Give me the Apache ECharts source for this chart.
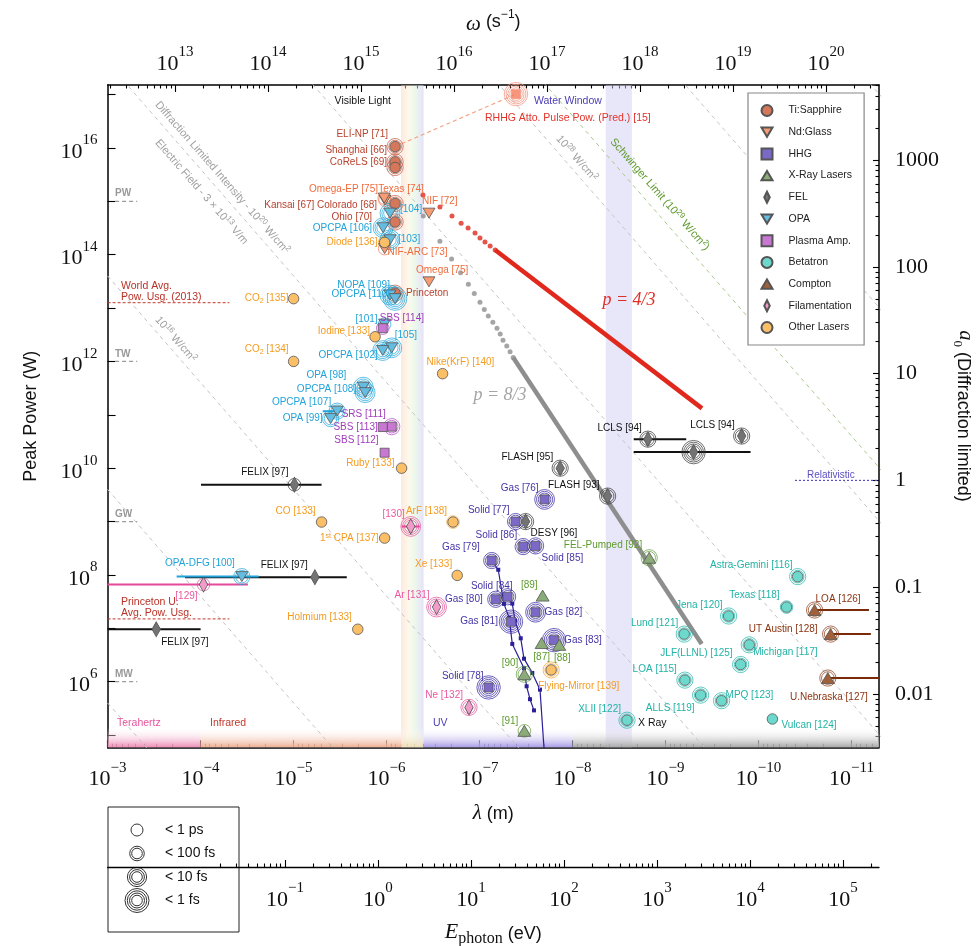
<!DOCTYPE html>
<html>
<head>
<meta charset="utf-8">
<script src="https://cdn.jsdelivr.net/npm/echarts@6/dist/echarts.min.js"></script>
<style>html,body{margin:0;padding:0;background:#fff}#chart{width:977px;height:946px}</style>
</head>
<body>
<div id="chart"></div>
<script>
// ---- data: [wavelength (m), peak power (W), label, rings (pulse length class)]
const tiSapphire = [
  [8.1e-7, 1.06e16, 'ELI-NP [71]', 2],
  [8.1e-7, 5.5e15, 'Shanghai [66]', 2],
  [8.1e-7, 4.3e15, 'CoReLS [69]', 2],
  [8.1e-7, 9.1e14, 'Kansai [67] Colorado [68]', 2],
  [8.1e-7, 4.1e14, 'Ohio [70]', 2],
  [8.1e-7, 1.9e13, 'Princeton', 2]
];
const ndGlass = [
  [1.04e-6, 1.05e15, 'Omega-EP [75]', 1],
  [1.06e-6, 1.15e15, 'Texas [74]', 1],
  [3.5e-7, 6.0e14, 'NIF [72]', 0],
  [1.05e-6, 1.3e14, 'NIF-ARC [73]', 1],
  [3.5e-7, 3.1e13, 'Omega [75]', 0]
];
const hhg = [
  [2.0e-8, 2.6e9, 'Gas [76]', 3],
  [4.1e-8, 1.0e9, 'Solid [77]', 2],
  [3.4e-8, 3.4e8, 'Solid [86]', 2],
  [2.5e-8, 3.5e8, 'Solid [85]', 2],
  [7.4e-8, 1.86e8, 'Gas [79]', 2],
  [5.0e-8, 3.9e7, 'Solid [84]', 2],
  [6.7e-8, 3.5e7, 'Gas [80]', 2],
  [2.5e-8, 2.0e7, 'Gas [82]', 3],
  [4.6e-8, 1.33e7, 'Gas [81]', 4],
  [1.58e-8, 6.0e6, 'Gas [83]', 4],
  [8.0e-8, 7.8e5, 'Solid [78]', 4]
];
const xrayLasers = [
  [2.1e-8, 4.1e7, '[89]', 0],
  [2.15e-8, 5.3e6, '[87]', 0],
  [1.39e-8, 4.9e6, '[88]', 0],
  [3.3e-8, 1.38e6, '[90]', 2],
  [3.3e-8, 1.2e5, '[91]', 1],
  [1.5e-9, 2.1e8, 'FEL-Pumped [92]', 2]
];
const fel = [
  [9.8e-6, 4.9e9, 'FELIX [97]', 1],
  [5.9e-6, 9.1e7, 'FELIX [97]', 0],
  [3.0e-4, 9.6e6, 'FELIX [97]', 0],
  [1.36e-8, 1.0e10, 'FLASH [95]', 2],
  [4.2e-9, 3.0e9, 'FLASH [93]', 2],
  [3.2e-8, 1.0e9, 'DESY [96]', 2],
  [1.55e-9, 3.5e10, 'LCLS [94]', 2],
  [5.0e-10, 2.0e10, '', 4],
  [1.52e-10, 4.0e10, 'LCLS [94]', 2]
];
const opa = [
  [9.2e-7, 6.0e14, '[104]', 3],
  [1.09e-6, 3.2e14, 'OPCPA [106]', 3],
  [9.2e-7, 1.9e14, '[103]', 3],
  [9.2e-7, 1.75e13, 'NOPA [109]', 3],
  [8.1e-7, 1.5e13, 'OPCPA [110]', 4],
  [1.05e-6, 5.0e12, '[101]', 1],
  [8.8e-7, 1.8e12, '[105]', 3],
  [1.1e-6, 1.6e12, 'OPCPA [102]', 3],
  [1.78e-6, 3.3e11, 'OPA [98]', 3],
  [1.7e-6, 2.6e11, 'OPCPA [108]', 3],
  [3.4e-6, 1.17e11, 'OPCPA [107]', 2],
  [4.0e-6, 8.5e10, 'OPA [99]', 2],
  [3.6e-5, 9.3e7, 'OPA-DFG [100]', 2]
];
const plasmaAmp = [
  [1.1e-6, 4.2e12, 'SBS [114]', 1],
  [8.8e-7, 6.0e10, 'SRS [111]', 2],
  [1.1e-6, 5.9e10, 'SBS [113]', 0],
  [1.05e-6, 1.95e10, 'SBS [112]', 0]
];
const betatron = [
  [3.8e-11, 9.3e7, 'Astra-Gemini [116]', 2],
  [5.0e-11, 2.5e7, 'Texas [118]', 1],
  [2.1e-10, 1.7e7, 'Jena [120]', 2],
  [6.3e-10, 7.8e6, 'Lund [121]', 2],
  [1.26e-10, 4.9e6, 'Michigan [117]', 2],
  [1.56e-10, 2.1e6, 'JLF(LLNL) [125]', 2],
  [6.2e-10, 1.07e6, 'LOA [115]', 2],
  [4.2e-10, 5.6e5, 'ALLS [119]', 2],
  [2.5e-10, 4.4e5, 'MPQ [123]', 2],
  [7.1e-11, 2.0e5, 'Vulcan [124]', 0],
  [2.6e-9, 1.9e5, 'XLII [122]', 2]
];
const compton = [
  [2.5e-11, 2.2e7, 'LOA [126]', 2],
  [1.68e-11, 7.8e6, 'UT Austin [128]', 2],
  [1.8e-11, 1.17e6, 'U.Nebraska [127]', 2]
];
const filamentation = [
  [5.5e-7, 8.1e8, '[130]', 3],
  [9.3e-5, 6.6e7, '[129]', 1],
  [2.9e-7, 2.5e7, 'Ar [131]', 3],
  [1.3e-7, 3.3e5, 'Ne [132]', 2]
];
const otherLasers = [
  [1.0e-5, 1.5e13, 'CO{sub|2} [135]', 0],
  [1.05e-6, 1.7e14, 'Diode [136]', 1],
  [1.33e-6, 2.9e12, 'Iodine [133]', 0],
  [1.0e-5, 1.0e12, 'CO{sub|2} [134]', 0],
  [2.5e-7, 5.9e11, 'Nike(KrF) [140]', 0],
  [6.9e-7, 1.0e10, 'Ruby [133]', 0],
  [5.0e-6, 9.8e8, 'CO [133]', 0],
  [1.05e-6, 4.9e8, '1{sup|st} CPA [137]', 0],
  [1.93e-7, 9.8e8, 'ArF [138]', 1],
  [1.74e-7, 9.8e7, 'Xe [133]', 0],
  [2.04e-6, 9.6e6, 'Holmium [133]', 0],
  [1.7e-8, 1.66e6, 'Flying-Mirror [139]', 2]
];
// spectral bars: [lambda from, lambda to, power, kind]
const spectralBars = [
  [9.9e-5, 5.0e-6, 4.9e9, 'FEL'],
  [1.47e-4, 2.68e-6, 9.1e7, 'FEL'],
  [1e-3, 1e-4, 9.6e6, 'FEL'],
  [2.2e-9, 6.0e-10, 3.5e10, 'FEL'],
  [2.2e-9, 1.22e-10, 2.0e10, 'FEL'],
  [1.81e-4, 2.37e-5, 9.3e7, 'OPA'],
  [4.86e-6, 2.94e-6, 1.17e11, 'OPA'],
  [6.9e-7, 4.4e-7, 8.1e8, 'Filamentation'],
  [1e-3, 3.1e-5, 6.6e7, 'Filamentation'],
  [2.5e-11, 6.5e-12, 2.2e7, 'Compton'],
  [1.68e-11, 6.2e-12, 7.8e6, 'Compton'],
  [1.8e-11, 5.0e-12, 1.17e6, 'Compton']
];
// relativistic HHG harmonics, p = 4/3 and p = 8/3
const rhhgDots = [[4.06e-7,1.31e15],[2.67e-7,7.8e14],[1.98e-7,5.3e14],[1.58e-7,3.9e14],[1.33e-7,3.16e14],
  [1.12e-7,2.54e14],[9.9e-8,2.05e14],[8.75e-8,1.72e14],[7.7e-8,1.45e14],[6.8e-8,1.22e14]];
const rhhgTrend = [[6.8e-8,1.22e14],[4.06e-10,1.32e11]];
const cweDots = [[4.03e-7,5.3e14],[2.67e-7,1.78e14],[2.0e-7,8.3e13],[1.6e-7,4.6e13],[1.32e-7,2.8e13],[1.14e-7,1.88e13],
  [9.9e-8,1.29e13],[8.9e-8,9.4e12],[8.06e-8,7.1e12],[7.2e-8,5.4e12],[6.5e-8,4.2e12],[6.0e-8,3.26e12],[5.6e-8,2.5e12],
  [5.1e-8,1.94e12],[4.7e-8,1.52e12],[4.35e-8,1.18e12]];
const cweTrend = [[4.35e-8,1.18e12],[4.09e-10,5.1e6]];
const rhhgAtto = [4.06e-8, 1.02e17];
// HHG harmonic sequences
const hhgSeqA = [[7.41e-8,1.86e8],[6.3e-8,1.25e8],[5.47e-8,2.87e7],[4.8e-8,1.57e7],[4.45e-8,5.1e6],[3.33e-8,1.78e6],[3.12e-8,8.2e5],[2.87e-8,4.7e5],[2.6e-8,2.9e5]];
const hhgSeqB = [[5.04e-8,3.9e7],[4.45e-8,2.9e7],[4.16e-8,1.39e7],[3.61e-8,6.5e6],[3.33e-8,2.7e6],[2.71e-8,1.46e6],[2.24e-8,7.1e5]];
const hhgSeqBTail = [[2.24e-8,7.1e5],[2.03e-8,5.7e4]];
// iso-intensity lines (10^8 ... 10^36 W/cm^2), endpoints [lambda, P]
const isoLines = [
  [[1e-3,4e5],[1e-12,4e-13]], [[1e-3,4e9],[1e-12,4e-9]], [[1e-3,4e13],[1e-12,4e-5]], [[1e-3,4e17],[1e-12,4e-1]],
  [[1e-3,4e21],[1e-12,4e3]], [[1e-3,4e25],[1e-12,4e7]], [[1e-3,4e29],[1e-12,4e11]], [[1e-3,4e33],[1e-12,4e15]]
];
const schwingerLine = [[1e-3,4e26],[1e-12,4e8]];
const powerLevels = [['PW',1e15],['TW',1e12],['GW',1e9],['MW',1e6]];
const powerUsage = [['World Avg.\nPow. Usg. (2013)',1.26e13],['Princeton U.\nAvg. Pow. Usg.',1.5e7]];
const relativisticA0 = 1;
// spectral regions (m)
const visibleBand = [7e-7, 4e-7];
const waterWindow = [4.4e-9, 2.3e-9];
const stripRegions = [[1e-3,1e-4,'#ee8db6'],[1e-4,7e-7,'#eeae92'],[7e-7,4e-7,'#eedcb8'],[4e-7,1e-8,'#a99ce6'],[1e-8,5e-12,'#a8a8a8']];
// axis ticks
const powerTicks = [1e5,1e6,1e7,1e8,1e9,1e10,1e11,1e12,1e13,1e14,1e15,1e16,1e17];
const powerLabels = [1e6,1e8,1e10,1e12,1e14,1e16];
const lambdaTicks = [1e-3,1e-4,1e-5,1e-6,1e-7,1e-8,1e-9,1e-10,1e-11];
const omegaTicks = [1e13,1e14,1e15,1e16,1e17,1e18,1e19,1e20];
const energyTicks = [1e-1,1e0,1e1,1e2,1e3,1e4,1e5];
const a0Ticks = [0.01,0.1,1,10,100,1000];

const LAM_MIN = 5.07e-12, LAM_MAX = 1e-3;
const P_MIN = 5.9e4, P_MAX = 1.51e17;
const P_REL = 5.9e9;
const TWO_PI_C = 1.88365e9, HC_EV = 1.23984e-6;

// ---- styles
const sans = "'Liberation Sans', Arial, Helvetica, sans-serif";
const serif = "'Liberation Serif', 'DejaVu Serif', serif";
const tallDiamond = 'path://M4,0L8,8L4,16L0,8Z';
const downTriangle = 'path://M0,0L12,0L6,10Z';
const upTriangle = 'path://M6,0L12,10L0,10Z';

const cats = [
  {name:'Ti:Sapphire', data:tiSapphire, symbol:'circle', size:10.5, fill:'#d4775a', ring:'#c2583e', text:'#b8412c',
   at:[['r',-7,-12],['r',-8,-12],['r',-8,-5],['r',-18,2],['r',-23,-5],['l',11,0]]},
  {name:'Nd:Glass', data:ndGlass, symbol:'triangle', rotate:180, icon:downTriangle, size:[12,10], fill:'#f79b72', ring:'#ef7c50', text:'#ef6c3c',
   at:[['r',-7,-11],['l',-6,-9],['l',-7,-12],['l',3,4],['l',-13,-12]]},
  {name:'HHG', data:hhg, symbol:'rect', size:9, fill:'#7b68c7', ring:'#3424a0', text:'#4535a6',
   at:[['r',-6,-11],['r',-6,-11],['r',-6,-11],['l',6,12],['r',-12,-13],['r',5,-11],['r',-13,0],['l',9,0],['r',-13,0],['l',10,0],['r',-5,-11]]},
  {name:'X-Ray Lasers', data:xrayLasers, symbol:'triangle', icon:upTriangle, size:[13,11], fill:'#8bab78', ring:'#5f9a3c', text:'#5d9b2c',
   at:[['r',-5,-10],['c',0,14],['c',3,13],['r',-6,-11],['r',-6,-10],['r',-7,-12]]},
  {name:'FEL', data:fel, symbol:'diamond', icon:tallDiamond, size:[8.5,15], fill:'#737373', ring:'#333333', text:'#111111',
   at:[['r',-6,-12],['r',-7,-12],['l',5,13],['r',-7,-11],['r',-8,-11],['l',5,12],['r',-6,-11],null,['r',-7,-11]]},
  {name:'OPA', data:opa, symbol:'triangle', rotate:180, icon:downTriangle, size:[12,10], fill:'#64bde0', ring:'#22a6db', text:'#21a3d9',
   at:[['l',10,-4],['r',-11,1],['l',8,-1],['r',0,-10],['r',-5,-4],['r',-7,-5],['l',3,-13],['r',-5,5],['r',-17,-12],['r',-9,-3],['r',-6,-9],['r',-8,0],['r',-7,-13]]},
  {name:'Plasma Amp.', data:plasmaAmp, symbol:'rect', size:9, fill:'#c877d2', ring:'#b24ac4', text:'#a13cbc',
   at:[['l',-3,-10],['r',-6,-12],['r',-5,0],['r',-6,-12]]},
  {name:'Betatron', data:betatron, symbol:'circle', size:10.5, fill:'#6dd8cc', ring:'#23b5a8', text:'#21b3a5',
   at:[['r',-5,-11],['r',-7,-12],['r',-6,-11],['r',-6,-11],['l',4,7],['r',-8,-11],['r',-8,-11],['r',-6,13],['l',4,-5],['l',9,6],['r',-6,-11]]},
  {name:'Compton', data:compton, symbol:'triangle', icon:upTriangle, size:[13,11], fill:'#a0603a', ring:'#8c3d1c', text:'#8b3412',
   at:[['l',1,-11],['r',-13,-5],['r',40,19]]},
  {name:'Filamentation', data:filamentation, symbol:'diamond', icon:tallDiamond, size:[8.5,15], fill:'#f29ccc', ring:'#e2529a', text:'#e9579f',
   at:[['r',-6,-12],['r',-6,12],['r',-7,-12],['r',-6,-12]]},
  {name:'Other Lasers', data:otherLasers, symbol:'circle', size:10.5, fill:'#fbbf68', ring:'#f3a335', text:'#f49c22',
   at:[['r',-5,0],['r',-7,0],['r',-5,-6],['r',-5,-12],['l',-16,-11],['r',-7,-5],['r',-6,-11],['r',-6,0],['r',-6,-11],['r',-5,-11],['r',-6,-12],['l',-13,16]]}
];
const barColor = {FEL:'#111111', OPA:'#21a3d9', Filamentation:'#e6489a', Compton:'#7a2a08'};

function pow10Label(v) {
  const e = Math.round(Math.log10(v));
  return '{n|10}{s|' + (e < 0 ? '\u2212' + (-e) : e) + '}';
}
const tickRich = {
  n: {fontFamily: serif, fontSize: 22, lineHeight: 30, verticalAlign: 'bottom', color: '#111'},
  s: {fontFamily: serif, fontSize: 15, lineHeight: 16, verticalAlign: 'top', color: '#111'}
};
function minorTicks(lo, hi) {
  const out = [];
  for (let e = Math.floor(Math.log10(lo)); e <= Math.ceil(Math.log10(hi)); e++) {
    for (let m = 2; m <= 9; m++) {
      const v = m * Math.pow(10, e);
      if (v > lo && v < hi) out.push(v);
    }
  }
  return out;
}
const axisLineStyle = {color: '#000', width: 1.5};
const tickLine = {color: '#000', width: 1.1};

function logAxis(o) {
  return Object.assign({
    type: 'log', splitLine: {show: false}, minorTick: {show: false},
    axisLine: {onZero: false, lineStyle: axisLineStyle}
  }, o);
}

const OM_MIN = TWO_PI_C / LAM_MAX, OM_MAX = TWO_PI_C / LAM_MIN;
const E_MIN = HC_EV / LAM_MAX, E_MAX = HC_EV / LAM_MIN;
const A0_MIN = Math.sqrt(P_MIN / P_REL), A0_MAX = Math.sqrt(P_MAX / P_REL);

const xAxis = [
  logAxis({gridIndex: 0, position: 'bottom', inverse: true, min: LAM_MIN, max: LAM_MAX,
    axisTick: {inside: true, length: 7, customValues: lambdaTicks, lineStyle: tickLine},
    axisLabel: {customValues: lambdaTicks, formatter: pow10Label, rich: tickRich, margin: 13},
    name: '{i|\u03bb} (m)', nameLocation: 'middle', nameGap: 56,
    nameTextStyle: {fontFamily: sans, fontSize: 18, color: '#111', rich: {i: {fontFamily: serif, fontStyle: 'italic', fontSize: 21, color: '#111'}}}}),
  logAxis({gridIndex: 0, position: 'bottom', inverse: true, min: LAM_MIN, max: LAM_MAX,
    axisLine: {show: false, onZero: false},
    axisTick: {inside: true, length: 3.5, customValues: minorTicks(LAM_MIN, LAM_MAX), lineStyle: tickLine},
    axisLabel: {show: false}}),
  logAxis({gridIndex: 0, position: 'top', min: OM_MIN, max: OM_MAX,
    axisTick: {inside: true, length: 7, customValues: omegaTicks, lineStyle: tickLine},
    axisLabel: {customValues: omegaTicks, formatter: pow10Label, rich: tickRich, margin: 10},
    name: '{i|\u03c9} (s{s|\u22121})', nameLocation: 'middle', nameGap: 50,
    nameTextStyle: {fontFamily: sans, fontSize: 18, color: '#111', rich: {
      i: {fontFamily: serif, fontStyle: 'italic', fontSize: 21, color: '#111', lineHeight: 26, verticalAlign: 'bottom'},
      s: {fontFamily: sans, fontSize: 12, color: '#111', lineHeight: 14, verticalAlign: 'top'}}}}),
  logAxis({gridIndex: 0, position: 'top', min: OM_MIN, max: OM_MAX,
    axisLine: {show: false, onZero: false},
    axisTick: {inside: true, length: 3.5, customValues: minorTicks(OM_MIN, OM_MAX), lineStyle: tickLine},
    axisLabel: {show: false}}),
  logAxis({gridIndex: 1, position: 'bottom', min: E_MIN, max: E_MAX,
    axisLine: {onZero: false, lineStyle: {color: '#000', width: 1.3}},
    axisTick: {inside: true, length: 7, customValues: energyTicks, lineStyle: tickLine},
    axisLabel: {customValues: energyTicks, formatter: pow10Label, rich: tickRich, margin: 14},
    name: '{i|E}{b|photon} (eV)', nameLocation: 'middle', nameGap: 54,
    nameTextStyle: {fontFamily: sans, fontSize: 18, color: '#111', rich: {
      i: {fontFamily: serif, fontStyle: 'italic', fontSize: 22, color: '#111', lineHeight: 26, verticalAlign: 'top'},
      b: {fontFamily: serif, fontSize: 16, color: '#111', lineHeight: 16, verticalAlign: 'bottom'}}}}),
  logAxis({gridIndex: 1, position: 'bottom', min: E_MIN, max: E_MAX,
    axisLine: {show: false, onZero: false},
    axisTick: {inside: true, length: 3.5, customValues: minorTicks(1e-2, E_MAX), lineStyle: tickLine},
    axisLabel: {show: false}})
];

const yAxis = [
  logAxis({gridIndex: 0, position: 'left', min: P_MIN, max: P_MAX,
    axisTick: {inside: true, length: 8, customValues: powerTicks, lineStyle: tickLine},
    axisLabel: {customValues: powerLabels, formatter: pow10Label, rich: tickRich, margin: 10},
    name: 'Peak Power (W)', nameLocation: 'middle', nameGap: 68, nameRotate: 90,
    nameTextStyle: {fontFamily: sans, fontSize: 18, color: '#111'}}),
  logAxis({gridIndex: 0, position: 'right', min: A0_MIN, max: A0_MAX,
    axisTick: {inside: true, length: 6, customValues: a0Ticks, lineStyle: tickLine},
    axisLabel: {customValues: a0Ticks, margin: 16, fontFamily: serif, fontSize: 22, color: '#111',
      formatter: v => v >= 1 ? String(Math.round(v)) : String(+v.toPrecision(1))},
    name: '{i|a}{b|0} (Diffraction limited)', nameLocation: 'middle', nameGap: 72, nameRotate: -90,
    nameTextStyle: {fontFamily: sans, fontSize: 18, color: '#111', rich: {
      i: {fontFamily: serif, fontStyle: 'italic', fontSize: 20, color: '#111', lineHeight: 24, verticalAlign: 'top'},
      b: {fontFamily: serif, fontSize: 13, color: '#111', lineHeight: 14, verticalAlign: 'bottom'}}}}),
  logAxis({gridIndex: 0, position: 'right', min: A0_MIN, max: A0_MAX,
    axisLine: {show: false, onZero: false},
    axisTick: {inside: true, length: 3.5, customValues: minorTicks(A0_MIN, A0_MAX), lineStyle: tickLine},
    axisLabel: {show: false}}),
  {gridIndex: 1, type: 'value', show: false, min: 0, max: 1}
];

const series = [];
const grad = (x2, y2, stops) => new echarts.graphic.LinearGradient(0, 0, x2, y2, stops);

// spectral bands
series.push({
  type: 'line', data: [], silent: true, z: 0,
  markArea: {silent: true, data: [
    [{xAxis: visibleBand[0], itemStyle: {color: grad(1, 0, [
      {offset: 0, color: 'rgba(252,205,188,0.45)'}, {offset: 0.35, color: 'rgba(250,242,208,0.45)'},
      {offset: 0.6, color: 'rgba(214,240,214,0.45)'}, {offset: 1, color: 'rgba(212,206,245,0.6)'}])}}, {xAxis: visibleBand[1]}],
    [{xAxis: waterWindow[0], itemStyle: {color: 'rgba(210,205,244,0.5)'}}, {xAxis: waterWindow[1]}]
  ].concat(stripRegions.map(r => [
    {xAxis: r[0], yAxis: P_MIN, itemStyle: {color: grad(0, 1, [{offset: 0, color: 'rgba(255,255,255,0)'}, {offset: 1, color: r[2]}])}},
    {xAxis: r[1], yAxis: 1.4e5}]))}
});

// iso-intensity lines
isoLines.forEach(l => series.push({type: 'line', data: l, symbol: 'none', silent: true, z: 1,
  lineStyle: {color: '#c4c4c4', width: 1, type: [4, 4]}}));
series.push({type: 'line', data: schwingerLine, symbol: 'none', silent: true, z: 1,
  lineStyle: {color: '#a9c98e', width: 1, type: [4, 4]}});

// power level marks and consumption
powerLevels.forEach(p => series.push({type: 'line', silent: true, z: 2, symbol: 'none',
  data: [[8.3e-4, p[1]], [4.8e-4, p[1]]], lineStyle: {color: '#9a9a9a', width: 1.2, type: [4, 3]}}));
powerUsage.forEach(p => series.push({type: 'line', silent: true, z: 2, symbol: 'none',
  data: [[1e-3, p[1]], [4.9e-5, p[1]]], lineStyle: {color: '#c0392b', width: 1, type: [3, 2]}}));
series.push({type: 'line', silent: true, z: 2, symbol: 'none', yAxisIndex: 1,
  data: [[4.06e-11, relativisticA0], [LAM_MIN, relativisticA0]], lineStyle: {color: '#5a4fc0', width: 1.2, type: [2, 2]}});

// harmonic scaling
series.push({type: 'line', data: [tiSapphire[0].slice(0, 2), rhhgAtto], symbol: 'none', silent: true, z: 2,
  lineStyle: {color: '#f4a585', width: 1.2, type: [4, 3]}});
series.push({type: 'scatter', data: cweDots, symbol: 'circle', symbolSize: 5, silent: true, z: 2, itemStyle: {color: '#8e8e8e'}});
series.push({type: 'line', data: cweTrend, symbol: 'none', silent: true, z: 2, lineStyle: {color: '#8e8e8e', width: 4.5}});
series.push({type: 'scatter', data: rhhgDots, symbol: 'circle', symbolSize: 5, silent: true, z: 2, itemStyle: {color: '#e0291c'}});
series.push({type: 'line', data: rhhgTrend, symbol: 'none', silent: true, z: 2, lineStyle: {color: '#e0291c', width: 4.5}});
[hhgSeqA, hhgSeqB].forEach(s => series.push({type: 'line', data: s, symbol: 'rect', symbolSize: 4, silent: true, z: 3,
  itemStyle: {color: '#2a1f99'}, lineStyle: {color: '#2a1f99', width: 1.2}}));
series.push({type: 'line', data: hhgSeqBTail, symbol: 'none', silent: true, z: 3, lineStyle: {color: '#2a1f99', width: 1.2}});

// spectral bars
spectralBars.forEach(b => series.push({type: 'line', silent: true, z: 3, symbol: 'none',
  data: [[b[0], b[2]], [b[1], b[2]]], lineStyle: {color: barColor[b[3]], width: 2}}));

// predicted attosecond pulse
for (let k = 1; k <= 4; k++) {
  series.push({type: 'scatter', silent: true, z: 4, symbol: 'circle', symbolSize: 9 + 3.6 * k, data: [rhhgAtto],
    itemStyle: {color: 'rgba(0,0,0,0)', borderColor: '#f4907a', borderWidth: 0.9}});
}
series.push({type: 'scatter', silent: true, z: 5, symbol: 'rect', symbolSize: 9, data: [rhhgAtto],
  itemStyle: {color: '#f47c5c', borderColor: '#f4907a', borderWidth: 0.8}});

// categories: rings then markers
cats.forEach(c => {
  for (let k = 1; k <= 4; k++) {
    const pts = c.data.filter(d => d[3] >= k).map(d => [d[0], d[1]]);
    if (!pts.length) continue;
    series.push({type: 'scatter', silent: true, z: 4, symbol: 'circle', symbolSize: 9 + 3.6 * k, data: pts,
      itemStyle: {color: 'rgba(0,0,0,0)', borderColor: c.ring, borderWidth: 0.9}});
  }
  series.push({
    name: c.name, type: 'scatter', z: 5, symbol: c.symbol, symbolSize: c.size, symbolRotate: c.rotate || 0,
    itemStyle: {color: c.fill, borderColor: '#555', borderWidth: 0.8, opacity: 1},
    emphasis: {disabled: true},
    label: {show: true, position: 'inside', color: c.text, fontFamily: sans, fontSize: 10, lineHeight: 12,
      verticalAlign: 'middle', textBorderWidth: 0, formatter: p => p.name,
      rich: {sub: {fontSize: 7, color: c.text, lineHeight: 10, verticalAlign: 'bottom'},
             sup: {fontSize: 7, color: c.text, lineHeight: 7, verticalAlign: 'top'}}},
    data: c.data.map((d, i) => {
      const a = c.at[i];
      return {
        name: d[2], value: [d[0], d[1]],
        label: a && d[2] ? {show: true, align: a[0] === 'r' ? 'right' : (a[0] === 'l' ? 'left' : 'center'), offset: [a[1], a[2]]} : {show: false}
      };
    })
  });
});

// ---- annotations
const ROT = -48.9 * Math.PI / 180;
function note(x, y, text, fill, extra) {
  return {type: 'text', x: x, y: y, silent: true, z: 50,
    style: Object.assign({text: text, fill: fill, fontFamily: sans, fontSize: 10.5, align: 'left', verticalAlign: 'middle'}, extra || {})};
}
function rotNote(x, y, text, fill) {
  const supStyle = {fontSize: 8, fill: fill, fontFamily: sans, verticalAlign: 'top', lineHeight: 9};
  return {type: 'text', x: x, y: y, rotation: ROT, silent: true, z: 50,
    style: {text: text, fill: fill, fontFamily: sans, fontSize: 11, align: 'left', verticalAlign: 'middle', lineHeight: 14,
      rich: {sup: supStyle}}};
}
const graphic = [
  note(391, 101, 'Visible Light', '#111', {align: 'right'}),
  note(534, 101, 'Water Window', '#4b3eb5'),
  note(485, 118, 'RHHG Atto. Pulse Pow. (Pred.) [15]', '#e2332a'),
  note(117, 723, 'Terahertz', '#e8559e'),
  note(210, 723, 'Infrared', '#c0392b'),
  note(433, 723, 'UV', '#4b3eb5'),
  note(638, 723, 'X Ray', '#111'),
  note(121, 292, 'World Avg.\nPow. Usg. (2013)', '#b83227', {lineHeight: 11}),
  note(121, 608, 'Princeton U.\nAvg. Pow. Usg.', '#b83227', {lineHeight: 11}),
  note(807, 475, 'Relativistic', '#5a4fc0', {fontSize: 10}),
  note(629, 300, 'p = 4/3', '#e0302a', {fontFamily: serif, fontStyle: 'italic', fontSize: 18, align: 'center'}),
  note(500, 395, 'p = 8/3', '#a5a5a5', {fontFamily: serif, fontStyle: 'italic', fontSize: 18, align: 'center'}),
  rotNote(157, 103, 'Diffraction Limited Intensity - 10{sup|20} W/cm{sup|2}', '#a0a0a0'),
  rotNote(157, 141, 'Electric Field - 3 \u00d7 10{sup|13} V/m', '#a0a0a0'),
  rotNote(157, 318, '10{sup|16} W/cm{sup|2}', '#a0a0a0'),
  rotNote(558, 137, '10{sup|28} W/cm{sup|2}', '#a0a0a0'),
  rotNote(612, 140, 'Schwinger Limit (10{sup|29} W/cm{sup|2})', '#5f9a2e')
];
[['PW', 193], ['TW', 354], ['GW', 514], ['MW', 674]].forEach(p =>
  graphic.push(note(115, p[1], p[0], '#999', {fontSize: 10, fontWeight: 'bold'})));

// pulse duration key
const keyRows = [['< 1 ps', [6]], ['< 100 fs', [5.3, 7.3]], ['< 10 fs', [5.3, 7.4, 9.6]], ['< 1 fs', [5.3, 7.5, 9.7, 12]]];
const keyChildren = [{type: 'rect', shape: {x: 108, y: 807, width: 131, height: 125},
  style: {fill: '#fff', stroke: '#222', lineWidth: 1}}];
keyRows.forEach((r, i) => {
  const cy = 830 + i * 23.5;
  r[1].forEach(rad => keyChildren.push({type: 'circle', shape: {cx: 137, cy: cy, r: rad},
    style: {fill: 'none', stroke: '#333', lineWidth: 1}}));
  keyChildren.push({type: 'text', x: 165, y: cy, style: {text: r[0], fill: '#111', fontFamily: sans, fontSize: 14,
    align: 'left', verticalAlign: 'middle'}});
});
graphic.push({type: 'group', z: 100, silent: true, children: keyChildren});

const chart = echarts.init(document.getElementById('chart'), null, {renderer: 'canvas'});
chart.setOption({
  animation: false,
  backgroundColor: '#fff',
  grid: [
    {left: 107.6, right: 98, top: 85, bottom: 198.7, outerBoundsMode: 'none'},
    {left: 107.6, right: 98, top: 866, height: 1, outerBoundsMode: 'none'}
  ],
  legend: {
    orient: 'vertical', left: 748, top: 93, itemWidth: 11, itemHeight: 11, itemGap: 8.7,
    padding: [11, 12, 11, 12.5], borderColor: '#888', borderWidth: 1.2, backgroundColor: '#fff', selectedMode: false,
    textStyle: {fontFamily: sans, fontSize: 10.5, lineHeight: 13, color: '#222', padding: [0, 0, 0, 11]},
    data: cats.map(c => c.icon ? {name: c.name, icon: c.icon} : c.name), z: 20
  },
  xAxis: xAxis,
  yAxis: yAxis,
  series: series,
  graphic: graphic
});
</script>
</body>
</html>
